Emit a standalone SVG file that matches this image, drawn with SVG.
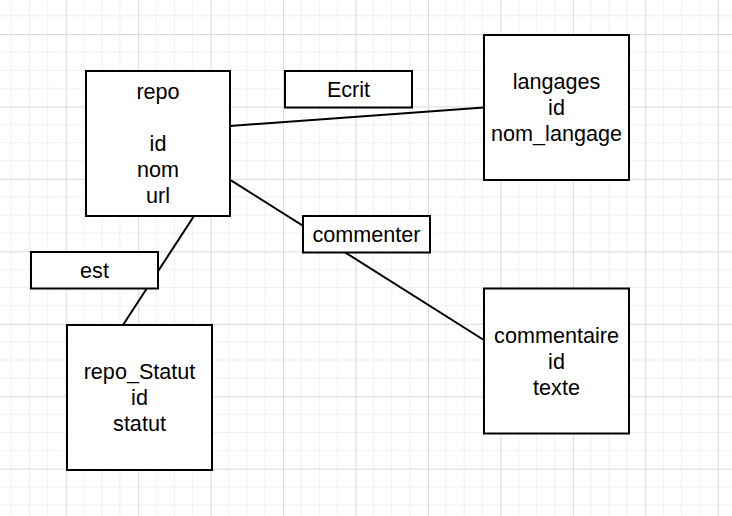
<svg xmlns="http://www.w3.org/2000/svg" width="732" height="516" viewBox="0 0 732 516">
<style>
.box{fill:#fff;stroke:#000;stroke-width:2}
.lbl{font-family:"Liberation Sans",Arial,sans-serif;font-size:21.6px;fill:#000;text-anchor:middle}
.edge{stroke:#000;stroke-width:2;fill:none}
</style>
<defs>
<pattern id="grid" patternUnits="userSpaceOnUse" x="-6.75" y="-38.45" width="72.45" height="72.45">
<path d="M18.11 0V72.45M36.23 0V72.45M54.34 0V72.45M0 18.11H72.45M0 36.23H72.45M0 54.34H72.45" stroke="#efefef" stroke-width="1" fill="none"/>
<path d="M0.5 0V72.45M0 0.5H72.45" stroke="#d9d9d9" stroke-width="1" fill="none"/>
</pattern>
</defs>
<rect width="732" height="516" fill="#fff"/>
<rect width="732" height="516" fill="url(#grid)"/>
<g id="connectors">
<line class="edge" x1="230" y1="126" x2="484" y2="107.5"/>
<line class="edge" x1="231" y1="180.3" x2="487" y2="342"/>
<line class="edge" x1="194" y1="216" x2="123" y2="325"/>
</g>
<g id="repo">
<rect class="box" x="86" y="71" width="144" height="145"/>
<text class="lbl" x="158" y="99">repo</text>
<text class="lbl" x="158" y="151">id</text>
<text class="lbl" x="158" y="177">nom</text>
<text class="lbl" x="158" y="203">url</text>
</g>
<g id="ecrit">
<rect class="box" x="285" y="71" width="127" height="36.5"/>
<text class="lbl" x="348.5" y="97">Ecrit</text>
</g>
<g id="langages">
<rect class="box" x="484" y="35" width="145" height="145"/>
<text class="lbl" x="556.5" y="89">langages</text>
<text class="lbl" x="556.5" y="115">id</text>
<text class="lbl" x="556.5" y="141">nom_langage</text>
</g>
<g id="commenter">
<rect class="box" x="303" y="216" width="127" height="36.5"/>
<text class="lbl" x="366.5" y="242">commenter</text>
</g>
<g id="est">
<rect class="box" x="31" y="252" width="127" height="36.5"/>
<text class="lbl" x="94.5" y="278">est</text>
</g>
<g id="repo_Statut">
<rect class="box" x="67" y="325" width="145" height="145"/>
<text class="lbl" x="139.5" y="379">repo_Statut</text>
<text class="lbl" x="139.5" y="405">id</text>
<text class="lbl" x="139.5" y="431">statut</text>
</g>
<g id="commentaire">
<rect class="box" x="484" y="288.5" width="145" height="145"/>
<text class="lbl" x="556.5" y="342.5">commentaire</text>
<text class="lbl" x="556.5" y="368.5">id</text>
<text class="lbl" x="556.5" y="394.5">texte</text>
</g>
</svg>
